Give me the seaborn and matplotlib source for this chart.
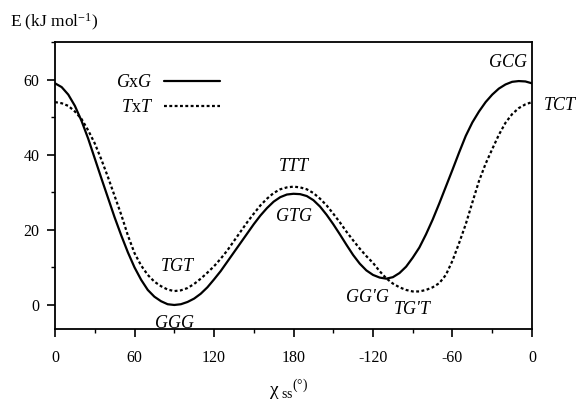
import numpy as np
import pandas as pd
import matplotlib
matplotlib.use("Agg")
import matplotlib.pyplot as plt
import seaborn as sns
from matplotlib.ticker import MultipleLocator

# ---- data ----
chi = list(range(0, 361, 5))
E_GxG = [59.0, 58.0, 56.0, 53.0, 49.0, 44.3, 39.0, 33.7, 28.5, 23.3, 18.5, 14.0, 10.0, 6.7,
         4.0, 2.2, 1.0, 0.2, 0.0, 0.2, 0.8, 1.7, 3.0, 4.7, 6.8, 9.0, 11.5, 14.0, 16.5, 19.0,
         21.5, 23.8, 25.8, 27.5, 28.7, 29.4, 29.6, 29.5, 29.0, 27.9, 26.2, 24.0, 21.5, 18.8,
         16.0, 13.3, 11.0, 9.2, 8.0, 7.3, 7.0, 7.4, 8.5, 10.2, 12.6, 15.3, 18.8, 22.7, 27.0,
         31.5, 36.0, 40.6, 45.0, 48.6, 51.5, 54.0, 56.0, 57.6, 58.7, 59.4, 59.6, 59.5, 59.0]
E_TxT = [54.0, 53.7, 53.0, 51.5, 49.5, 46.5, 43.0, 38.7, 34.0, 29.0, 24.0, 18.5, 13.8, 10.5,
         8.0, 6.2, 5.0, 4.1, 3.7, 3.9, 4.5, 5.6, 7.0, 8.6, 10.3, 12.3, 14.5, 17.0, 19.5, 22.0,
         24.3, 26.5, 28.3, 29.8, 30.8, 31.3, 31.5, 31.3, 30.8, 29.8, 28.3, 26.5, 24.3, 22.0,
         19.5, 17.2, 15.0, 13.0, 11.2, 9.0, 7.1, 5.7, 4.7, 4.0, 3.6, 3.6, 4.0, 4.7, 5.8,
         8.0, 11.8, 16.5, 21.5, 27.3, 33.0, 37.6, 41.5, 45.3, 48.5, 50.8, 52.4, 53.4, 54.0]
series_names = ["$G$x$G$", "$T$x$T$"]
x_ticks = [0, 60, 120, 180, 240, 300, 360]
x_ticklabels = ["0", "60", "120", "180", "-120", "-60", "0"]
y_ticks = [0, 20, 40, 60]
labels = ["GGG", "TGT", "GTG", "TTT", "GG'G", "TG'T", "GCG", "TCT"]

df = pd.DataFrame({
    "chi": chi * 2,
    "E": E_GxG + E_TxT,
    "series": [series_names[0]] * len(chi) + [series_names[1]] * len(chi),
})

sns.set_theme(style="ticks")
plt.rcParams["font.family"] = ["Liberation Serif", "DejaVu Serif"]
plt.rcParams["mathtext.fontset"] = "custom"
plt.rcParams["mathtext.rm"] = "Liberation Serif"
plt.rcParams["mathtext.it"] = "Liberation Serif:italic"
plt.rcParams["mathtext.bf"] = "Liberation Serif:bold"
plt.rcParams["text.color"] = "black"
plt.rcParams["axes.labelcolor"] = "black"
plt.rcParams["xtick.color"] = "black"
plt.rcParams["ytick.color"] = "black"

fig = plt.figure(figsize=(5.78, 4.07), dpi=100)
ax = fig.add_axes([0.0952, 0.1916, 0.8252, 0.7052])

sns.lineplot(data=df, x="chi", y="E", hue="series", style="series",
             palette={series_names[0]: "black", series_names[1]: "black"},
             dashes={series_names[0]: "", series_names[1]: (1.3, 1.1)},
             linewidth=1.6, ax=ax)

ax.set_xlim(0, 360)
ax.set_ylim(-6.4, 70)
ax.set_xticks(x_ticks)
ax.set_xticklabels(x_ticklabels)
ax.set_yticks(y_ticks)
ax.xaxis.set_minor_locator(MultipleLocator(30))
ax.yaxis.set_minor_locator(MultipleLocator(10))
ax.tick_params(axis="both", which="major", direction="out", length=6, width=1.2,
               labelsize=11.5, colors="black")
ax.tick_params(axis="x", which="major", pad=9)
ax.tick_params(axis="y", which="major", pad=5)
ax.tick_params(axis="both", which="minor", direction="out", length=3, width=1.0)
for s in ax.spines.values():
    s.set_linewidth(1.3)
    s.set_color("black")
ax.set_xlabel("")
ax.set_ylabel("")

leg = ax.legend(loc="upper left", bbox_to_anchor=(0.094, 0.945), frameon=False,
                markerfirst=False, fontsize=13, handlelength=3.05, handletextpad=0.65,
                labelspacing=0.45, title=None)

# state annotations (italic)
pos = {
    "GGG": (90, -4.9), "TGT": (92, 10.3), "GTG": (180, 23.5), "TTT": (180, 36.8),
    "GG'G": (236, 2.0), "TG'T": (270, -1.2), "GCG": (342, 64.5), "TCT": (381, 53.0),
}
for lab in labels:
    x, y = pos[lab]
    ax.text(x, y, lab, fontsize=13, fontstyle="italic", ha="center", va="center",
            clip_on=False)

fig.text(0.017, 0.944, "E (kJ mol$^{\\mathregular{-1}}$)", fontsize=12.5, ha="left", va="center")
fig.text(0.50, 0.040, "χ$_{\\mathregular{\\ ss}}{}^{\\mathregular{(\\degree)}}$",
         fontsize=14, ha="center", va="center")

fig.savefig("out.png", dpi=100)
